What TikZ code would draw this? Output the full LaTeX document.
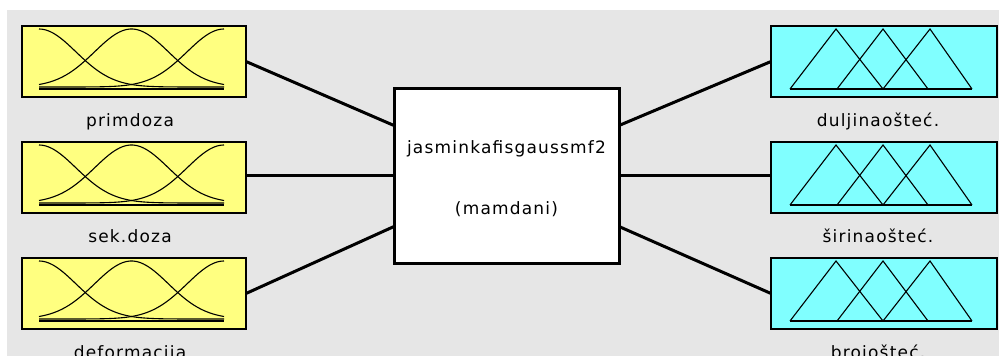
\documentclass[tikz,border=0pt]{standalone}
\usepackage{fontspec}
\setmainfont{DejaVu Sans}[LetterSpace=7]
\usetikzlibrary{
  calc, % For points on the box edges
  positioning % For placing the labels
}

\definecolor{inyellow}{RGB}{255,255,128}
\definecolor{outcyan}{RGB}{128,255,255}
\definecolor{panelgrey}{RGB}{230,230,230}

\begin{document}
\begin{tikzpicture}[
      x=1pt, y=-1pt, % Pixel units, y grows downwards
      mfbox/.style={draw, line width=2pt, outer sep=0pt, inner sep=0pt,
        minimum height=71pt, anchor=north west}, % Membership function panels
      inbox/.style={mfbox, fill=inyellow, minimum width=224pt},
      outbox/.style={mfbox, fill=outcyan, minimum width=226pt},
      fisbox/.style={draw, line width=3pt, fill=white, outer sep=0pt,
        minimum width=225pt, minimum height=175pt}, % Style for the system block
      varlabel/.style={font=\fontsize{17}{17}\selectfont, anchor=base},
      link/.style={line width=3pt}, % Style for the connectors
      mfline/.style={line width=1.1pt},
    ]

    \useasboundingbox (0,0) rectangle (999,356);
    \clip (0,0) rectangle (999,356);
    \fill[white] (0,0) rectangle (999,356);
    \fill[panelgrey] (7,10) rectangle (999,356);

    \def\sig{36.9}

    % Ulazne varijable
    \node[inbox] (in1) at (22,26) {};
    \node[inbox] (in2) at (22,142) {};
    \node[inbox] (in3) at (22,258) {};

    % Izlazne varijable
    \node[outbox] (out1) at (771,26) {};
    \node[outbox] (out2) at (771,142) {};
    \node[outbox] (out3) at (771,258) {};

    % Sustav zaključivanja
    \node[fisbox] (fis) at (506.5,175.5) {};
    \node[varlabel] (fisname) at ($(fis.center)+(0,-22)$) {jasminkafisgaussmf2};
    \node[varlabel] (fistype) at ($(fis.center)+(0,38.5)$) {(mamdani)};

    % Natpisi
    \node[varlabel] (lin1) at ($(in1.south)+(-4,29)$) {primdoza};
    \node[varlabel] (lin2) at ($(in2.south)+(-4,29)$) {sek.doza};
    \node[varlabel] (lin3) at ($(in3.south)+(-4,29)$) {deformacija};
    \node[varlabel] (lout1) at ($(out1.south)+(-6,29)$) {duljinaošteć.};
    \node[varlabel] (lout2) at ($(out2.south)+(-6,29)$) {širinaošteć.};
    \node[varlabel] (lout3) at ($(out3.south)+(-6,29)$) {brojošteć.};

    % Gaussove funkcije pripadnosti
    \foreach \panel in {in1, in2, in3} {
      \begin{scope}[shift={(\panel.north west)}]
        \draw[mfline] (17,63) -- (202,63);
        \foreach \c in {17, 109.5, 202}
          \draw[mfline] plot[domain=17:202, samples=70, smooth]
            (\x, {61 - 58*exp(-0.5*((\x-\c)/\sig)^2)});
      \end{scope}
    }

    % Trokutaste funkcije pripadnosti
    \foreach \panel in {out1, out2, out3} {
      \begin{scope}[shift={(\panel.north west)}]
        \draw[mfline] (19,63) -- (201,63);
        \draw[mfline] (19,63) -- (65,3) -- (112,63);
        \draw[mfline] (66,63) -- (112,3) -- (157,63);
        \draw[mfline] (112,63) -- (159,3) -- (201,63);
      \end{scope}
    }

    % Veze
    \draw[link] (in1.east) -- ($(fis.west)+(0,-50)$);
    \draw[link] (fis.west -| in2.east) -- (fis.west);
    \draw[link] (in3.east) -- ($(fis.west)+(0,51)$);
    \draw[link] ($(fis.east)+(0,-50)$) -- (out1.west);
    \draw[link] (fis.east) -- (fis.east -| out2.west);
    \draw[link] ($(fis.east)+(0,51)$) -- (out3.west);

  \end{tikzpicture}
\end{document}
